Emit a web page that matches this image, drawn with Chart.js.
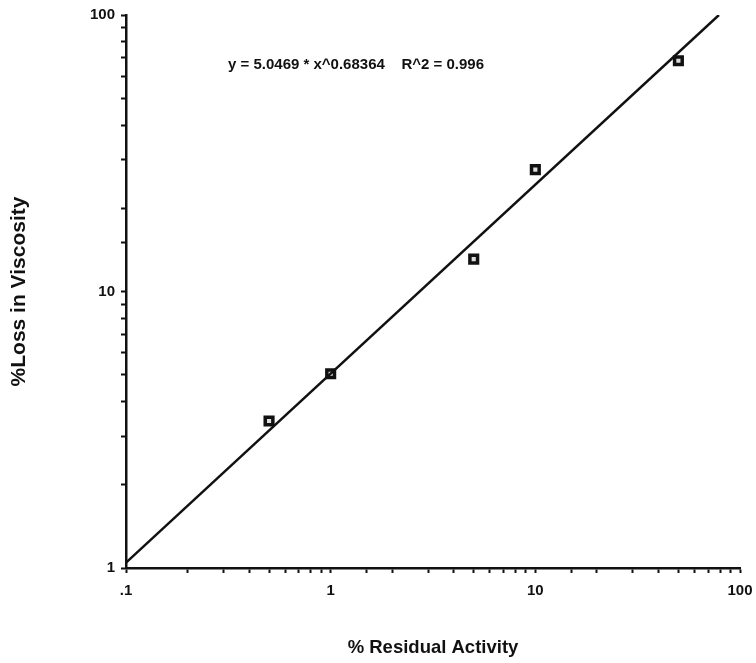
<!DOCTYPE html>
<html>
<head>
<meta charset="utf-8">
<script src="https://cdn.jsdelivr.net/npm/chart.js@4/dist/chart.umd.min.js"></script>
<style>
  html, body { margin: 0; padding: 0; background: #fff; }
  canvas { display: block; }
</style>
</head>
<body>
<canvas id="viscChart" width="756" height="663"></canvas>
<script>
// residual activity (%) vs. loss in viscosity (%)
var residual = [0.5, 1, 5, 10, 50];
var viscLoss = [3.4, 5.04, 13.1, 27.6, 68.3];

// power-law fit y = a * x^b
var fitA = 5.0469;
var fitB = 0.68364;
var fitR2 = 0.996;

var xTicks = [0.1, 1, 10, 100];
var xTickText = [".1", "1", "10", "100"];
var yTicks = [1, 10, 100];
var yTickText = ["1", "10", "100"];

var FONT = "'Liberation Sans', Arial, Helvetica, sans-serif";

var points = residual.map(function (x, i) { return { x: x, y: viscLoss[i] }; });

// fit line from x = 0.1 up to where it leaves the top of the plot (y = 100)
var fitStart = xTicks[0];
var fitEnd = Math.pow(yTicks[yTicks.length - 1] / fitA, 1 / fitB);
var fitLine = [
  { x: fitStart, y: fitA * Math.pow(fitStart, fitB) },
  { x: fitEnd, y: fitA * Math.pow(fitEnd, fitB) }
];

function decadeLabel(ticksList, textList) {
  return function (value) {
    for (var i = 0; i < ticksList.length; i++) {
      if (Math.abs(value - ticksList[i]) < ticksList[i] * 1e-6) return textList[i];
    }
    return "";
  };
}

var equationText = {
  id: "equationText",
  afterDraw: function (chart) {
    var c = chart.ctx;
    var area = chart.chartArea;
    c.save();
    c.fillStyle = "#111";
    c.font = "bold 15px " + FONT;
    c.textBaseline = "middle";
    c.textAlign = "left";
    var txt = "y = " + fitA + " * x^" + fitB + "    R^2 = " + fitR2;
    c.fillText(txt, area.left + 102, 65);
    c.restore();
  }
};

var ctx = document.getElementById("viscChart").getContext("2d");

var myChart = new Chart(ctx, {
  type: "scatter",
  data: {
    datasets: [
      {
        type: "line",
        data: fitLine,
        borderColor: "#111",
        borderWidth: 2.5,
        pointRadius: 0,
        fill: false,
      },
      {
        data: points,
        pointStyle: "rect",
        pointRadius: 5.4,
        borderWidth: 3.5,
        borderColor: "#111",
        backgroundColor: "#ddd",
      },
    ],
  },
  options: {
    responsive: false,
    animation: false,
    layout: {
      padding: { left: 0, top: 13, right: 16, bottom: 0 },
    },
    scales: {
      x: {
        type: "logarithmic",
        min: 0.1,
        max: 100,
        afterFit: function (scale) {
          scale.height = 95;
          scale.paddingRight = 0;
          scale.paddingLeft = 0;
        },
        border: { display: true, color: "#111", width: 2.5 },
        grid: {
          drawOnChartArea: false,
          drawTicks: true,
          tickLength: 5,
          tickColor: "#111",
          tickWidth: 2,
        },
        ticks: {
          autoSkip: false,
          maxRotation: 0,
          padding: 9,
          color: "#111",
          font: { family: FONT, size: 15, weight: "bold" },
          callback: decadeLabel(xTicks, xTickText),
        },
        title: {
          display: true,
          text: "% Residual Activity",
          color: "#111",
          font: { family: FONT, size: 18.5, weight: "bold" },
          padding: { top: 0, bottom: 4 },
        },
      },
      y: {
        type: "logarithmic",
        min: 1,
        max: 100,
        afterFit: function (scale) { scale.width = 126; },
        border: { display: true, color: "#111", width: 2.5 },
        grid: {
          drawOnChartArea: false,
          drawTicks: true,
          tickLength: 5,
          tickColor: "#111",
          tickWidth: 2,
        },
        ticks: {
          autoSkip: false,
          padding: 6,
          color: "#111",
          font: { family: FONT, size: 15, weight: "bold" },
          callback: decadeLabel(yTicks, yTickText),
        },
        title: {
          display: true,
          text: "%Loss in Viscosity",
          color: "#111",
          font: { family: FONT, size: 21, weight: "bold" },
          padding: { top: 7, bottom: 0 },
        },
      },
    },
    plugins: {
      legend: { display: false },
      tooltip: { enabled: false },
    },
  },
  plugins: [equationText],
});
</script>
</body>
</html>
